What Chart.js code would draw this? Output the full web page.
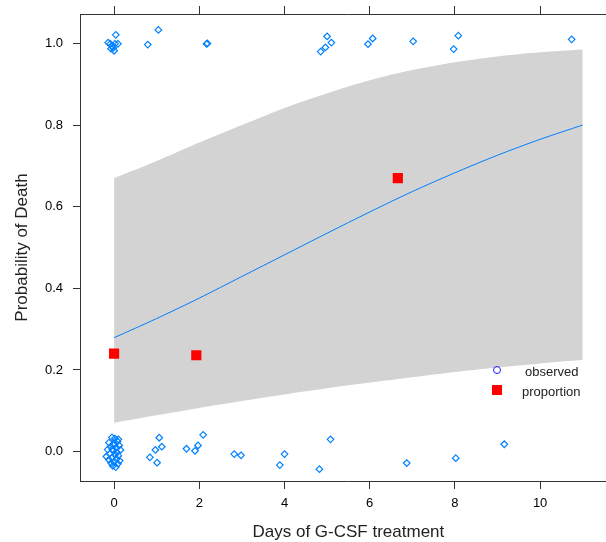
<!DOCTYPE html>
<html>
<head>
<meta charset="utf-8">
<script src="https://cdn.jsdelivr.net/npm/chart.js@4"></script>
<style>
  html, body { margin: 0; padding: 0; background: #fff; }
  #wrap { position: relative; width: 606px; height: 542px; overflow: hidden; }
  #chart { position: absolute; left: 0; top: 0; }
  .key { position: absolute; font: 13px "Liberation Sans", Arial, sans-serif; color: #222; }
  .key-circle { position: absolute; width: 6px; height: 6px; border: 1.3px solid #1a1aff; border-radius: 50%; }
  .key-square { position: absolute; width: 10px; height: 10px; background: #ff0000; }
</style>
</head>
<body>
<div id="wrap">
  <canvas id="chart" width="624" height="542"></canvas>
  <div class="key-circle" style="left:493px; top:366px;"></div>
  <div class="key-square" style="left:492px; top:385px;"></div>
  <div class="key" style="left:525px; top:364px;">observed</div>
  <div class="key" style="left:522px; top:384px;">proportion</div>
</div>
<script>
// fitted curve and confidence band at whole days
const fitDays = [0, 1, 2, 3, 4, 5, 6, 7, 8, 9, 10, 11];
const fitProb = [0.279, 0.326, 0.376, 0.429, 0.482, 0.535, 0.587, 0.637, 0.683, 0.726, 0.765, 0.800];
const upperCI = [0.670, 0.712, 0.757, 0.800, 0.842, 0.878, 0.910, 0.935, 0.954, 0.968, 0.978, 0.985];
const lowerCI = [0.071, 0.089, 0.107, 0.124, 0.140, 0.155, 0.169, 0.182, 0.195, 0.206, 0.216, 0.225];

// observed outcomes (jittered 0/1)
const obsDays = [
  0.04, -0.14, -0.09, -0.05, -0.02, 0.02, 0.09, 0.00, -0.07,
  0.79, 1.04, 2.17, 2.19,
  5.00, 5.10, 4.96, 4.85, 6.07, 5.96, 7.02, 8.08, 7.97, 10.74,
  -0.05, 0.02, 0.08, -0.12, 0.00, 0.12, -0.08, 0.05, -0.15, 0.15, -0.02, 0.07, -0.10, 0.02,
  0.10, -0.18, -0.05, 0.06, -0.12, 0.13, 0.00, -0.07, 0.09, -0.03, 0.04, -0.01, 0.10, -0.04,
  1.06, 1.12, 0.97, 0.84, 1.01, 2.09, 1.70, 1.97, 1.90, 2.82, 2.98, 3.89, 4.00,
  4.82, 5.08, 6.87, 8.02, 9.16
];
const obsDeath = [
  1.021, 1.002, 0.999, 0.994, 0.989, 0.999, 0.999, 0.982, 0.987,
  0.997, 1.033, 0.999, 1.000,
  1.017, 1.002, 0.990, 0.980, 1.012, 0.998, 1.005, 1.019, 0.986, 1.010,
  0.035, 0.032, 0.025, 0.022, 0.020, 0.015, 0.012, 0.010, 0.005, 0.004, 0.002, -0.002, -0.005, -0.008,
  -0.010, -0.012, -0.015, -0.018, -0.020, -0.022, -0.025, -0.028, -0.030, -0.035, -0.038, 0.015, 0.030, 0.006,
  0.034, 0.012, 0.004, -0.014, -0.027, 0.041, 0.007, 0.015, 0.002, -0.006, -0.009, -0.033, -0.006,
  -0.043, 0.030, -0.028, -0.016, 0.018
];

// grouped proportions
const propDays = [0.00, 1.93, 6.66];
const propValues = [0.240, 0.236, 0.670];

const toXY = (xs, ys) => xs.map((x, i) => ({ x: x, y: ys[i] }));

const font = 'Liberation Sans, Arial, sans-serif';
const frameColor = '#333';

// keep the frame where lattice puts it: no extra label padding from the scales
const pinBox = size => scale => {
    if (scale.isHorizontal()) scale.height = size; else scale.width = size;
    scale.paddingTop = 0; scale.paddingBottom = 0;
    scale.paddingLeft = 0; scale.paddingRight = 0;
};

new Chart(document.getElementById('chart'), {
    type: 'scatter',
    data: {
        datasets: [
            {
                label: 'proportion', data: toXY(propDays, propValues),
                pointStyle: 'rect', pointRadius: 7.2, backgroundColor: '#ff0000', borderWidth: 0
            },
            {
                label: 'observed', data: toXY(obsDays, obsDeath),
                pointStyle: 'rectRot', pointRadius: 3.3, backgroundColor: 'rgba(0,0,0,0)',
                borderColor: '#0080ff', borderWidth: 1.2
            },
            {
                type: 'line', label: 'fit', data: toXY(fitDays, fitProb),
                borderColor: '#0080ff', borderWidth: 1, pointRadius: 0, fill: false, tension: 0.3
            },
            {
                type: 'line', label: 'upper', data: toXY(fitDays, upperCI),
                borderWidth: 0, borderColor: 'rgba(0,0,0,0)', pointRadius: 0,
                backgroundColor: '#d3d3d3', fill: '+1', tension: 0.3
            },
            {
                type: 'line', label: 'lower', data: toXY(fitDays, lowerCI),
                borderWidth: 0, borderColor: 'rgba(0,0,0,0)', pointRadius: 0, fill: false, tension: 0.3
            }
        ]
    },
    options: {
        responsive: false,
        animation: false,
        devicePixelRatio: 1,
        layout: { padding: { top: 0, left: 0, bottom: 0, right: 3 } },
        plugins: { legend: { display: false }, tooltip: { enabled: false } },
        scales: {
            x: {
                type: 'linear', position: 'bottom', min: -0.8, max: 11.8,
                afterFit: pinBox(61),
                border: { display: true, color: frameColor, width: 1 },
                grid: { display: true, drawOnChartArea: false, drawTicks: true, tickLength: 8, tickColor: frameColor },
                ticks: {
                    stepSize: 2, includeBounds: false, padding: 7, maxRotation: 0,
                    color: '#000', font: { family: font, size: 13 },
                    callback: v => String(v)
                },
                title: {
                    display: true, text: 'Days of G-CSF treatment', color: '#222',
                    font: { family: font, size: 17, lineHeight: 1 }, padding: { top: 0, bottom: 1 }
                }
            },
            x2: {
                type: 'linear', position: 'top', min: -0.8, max: 11.8,
                afterFit: pinBox(14),
                border: { display: true, color: frameColor, width: 1 },
                grid: { display: true, drawOnChartArea: false, drawTicks: true, tickLength: 8, tickColor: frameColor },
                ticks: { stepSize: 2, includeBounds: false, padding: 0, font: { size: 1 }, callback: () => '' }
            },
            y: {
                type: 'linear', position: 'left', min: -0.072, max: 1.072,
                afterFit: pinBox(80),
                border: { display: true, color: frameColor, width: 1 },
                grid: { display: true, drawOnChartArea: false, drawTicks: true, tickLength: 7, tickColor: frameColor },
                ticks: {
                    stepSize: 0.2, includeBounds: false, padding: 10,
                    color: '#000', font: { family: font, size: 13 },
                    callback: v => v.toFixed(1)
                },
                title: {
                    display: true, text: 'Probability of Death', color: '#222',
                    font: { family: font, size: 17, lineHeight: 1 }, padding: { top: 14, bottom: 0 }
                }
            }
        }
    }
});
</script>
</body>
</html>
